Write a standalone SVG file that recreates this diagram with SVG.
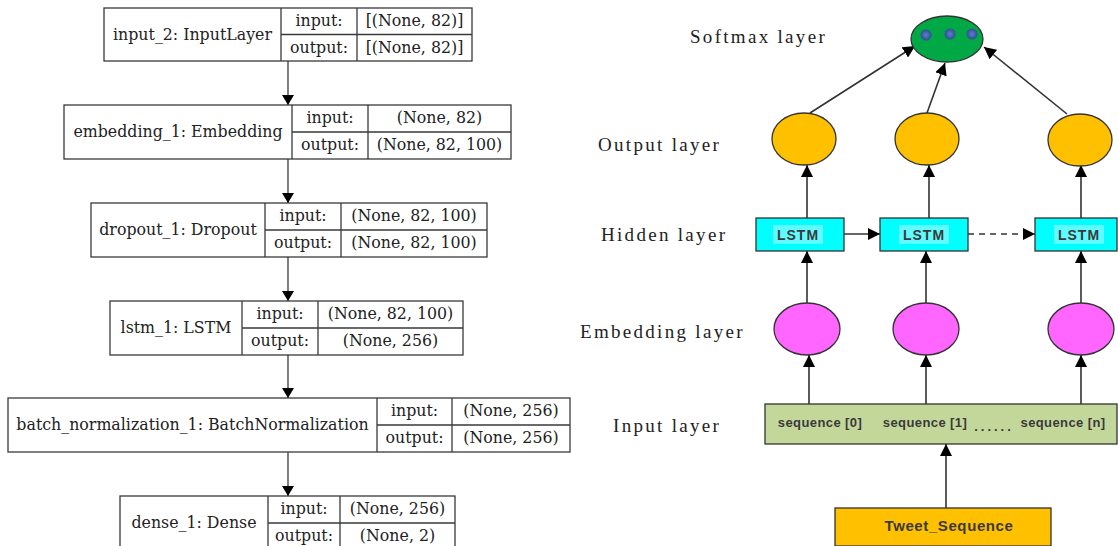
<svg xmlns="http://www.w3.org/2000/svg" width="1118" height="546" viewBox="0 0 1118 546">
<style>
.box{fill:#fff;stroke:#3a3a3a;stroke-width:1.3}
.ln{stroke:#3a3a3a;stroke-width:1.3;fill:none}
.t{font-family:"DejaVu Serif",serif;font-size:15.8px;fill:#222;text-anchor:middle}
.lab{font-family:"Liberation Serif",serif;font-size:19px;fill:#222;letter-spacing:2.3px}
.con{stroke:#333;stroke-width:1.6;fill:none}
.b{font-family:"Liberation Sans",Arial,sans-serif;font-weight:bold;fill:#3a3a3a;text-anchor:middle}
.nd{stroke:#333;stroke-width:1.3}
</style>
<defs>
<marker id="ah" viewBox="0 0 10 12" refX="10" refY="6" markerWidth="10" markerHeight="12" markerUnits="userSpaceOnUse" orient="auto"><path d="M0,0 L10,6 L0,12 Z" fill="#000"/></marker>
<marker id="ar" viewBox="0 0 12 12" refX="12" refY="6" markerWidth="12" markerHeight="12" markerUnits="userSpaceOnUse" orient="auto"><path d="M0,0 L12,6 L0,12 Z" fill="#000"/></marker>
<radialGradient id="dot"><stop offset="0" stop-color="#5b7fd0"/><stop offset="1" stop-color="#2f4f8f"/></radialGradient>
</defs>

<g id="connectors">
<path class="ln" d="M288,61 V105" marker-end="url(#ah)"/>
<path class="ln" d="M288,159 V203" marker-end="url(#ah)"/>
<path class="ln" d="M288,257 V301" marker-end="url(#ah)"/>
<path class="ln" d="M288,355 V398" marker-end="url(#ah)"/>
<path class="ln" d="M288,452 V496" marker-end="url(#ah)"/>
<path class="con" d="M810,113 L915,46" marker-end="url(#ar)"/>
<path class="con" d="M927,113 L945,63" marker-end="url(#ar)"/>
<path class="con" d="M1067,114 L984,47" marker-end="url(#ar)"/>
<path class="con" d="M807,218 V165" marker-end="url(#ar)"/>
<path class="con" d="M929,218 V165" marker-end="url(#ar)"/>
<path class="con" d="M1081,218 V165" marker-end="url(#ar)"/>
<path class="con" d="M844,234 H880" marker-end="url(#ar)"/>
<path class="con" d="M968,234 H1035" stroke-dasharray="6,5" marker-end="url(#ar)"/>
<path class="con" d="M807,303 V251" marker-end="url(#ar)"/>
<path class="con" d="M926,303 V251" marker-end="url(#ar)"/>
<path class="con" d="M1081,303 V251" marker-end="url(#ar)"/>
<path class="con" d="M809,404 V355" marker-end="url(#ar)"/>
<path class="con" d="M926,404 V355" marker-end="url(#ar)"/>
<path class="con" d="M1081,404 V355" marker-end="url(#ar)"/>
<path class="con" d="M946,508 V444" marker-end="url(#ar)"/>
</g>

<g id="input_2">
<rect class="box" x="104" y="8" width="368" height="53"/>
<path class="ln" d="M281,8 V61 M357,8 V61 M281,34.5 H472"/>
<text class="t" x="192.5" y="40">input_2: InputLayer</text>
<text class="t" x="319" y="26">input:</text>
<text class="t" x="319" y="53">output:</text>
<text class="t" x="414.5" y="26">[(None, 82)]</text>
<text class="t" x="414.5" y="53">[(None, 82)]</text>
</g>

<g id="embedding_1">
<rect class="box" x="64" y="105" width="447" height="54"/>
<path class="ln" d="M292,105 V159 M368,105 V159 M292,132 H511"/>
<text class="t" x="178" y="137">embedding_1: Embedding</text>
<text class="t" x="330" y="123">input:</text>
<text class="t" x="330" y="150">output:</text>
<text class="t" x="439.5" y="123">(None, 82)</text>
<text class="t" x="439.5" y="150">(None, 82, 100)</text>
</g>

<g id="dropout_1">
<rect class="box" x="91" y="203" width="396" height="54"/>
<path class="ln" d="M265,203 V257 M341,203 V257 M265,230 H487"/>
<text class="t" x="178" y="235">dropout_1: Dropout</text>
<text class="t" x="303" y="221">input:</text>
<text class="t" x="303" y="248">output:</text>
<text class="t" x="414" y="221">(None, 82, 100)</text>
<text class="t" x="414" y="248">(None, 82, 100)</text>
</g>

<g id="lstm_1">
<rect class="box" x="110" y="301" width="353" height="54"/>
<path class="ln" d="M242,301 V355 M318,301 V355 M242,328 H463"/>
<text class="t" x="176" y="333">lstm_1: LSTM</text>
<text class="t" x="280" y="319">input:</text>
<text class="t" x="280" y="346">output:</text>
<text class="t" x="390.5" y="319">(None, 82, 100)</text>
<text class="t" x="390.5" y="346">(None, 256)</text>
</g>

<g id="batch_normalization_1">
<rect class="box" x="8" y="398" width="562" height="54"/>
<path class="ln" d="M377,398 V452 M452,398 V452 M377,425 H570"/>
<text class="t" x="192.5" y="430">batch_normalization_1: BatchNormalization</text>
<text class="t" x="414.5" y="416">input:</text>
<text class="t" x="414.5" y="443">output:</text>
<text class="t" x="511" y="416">(None, 256)</text>
<text class="t" x="511" y="443">(None, 256)</text>
</g>

<g id="dense_1">
<rect class="box" x="120" y="496" width="335" height="54"/>
<path class="ln" d="M268,496 V550 M340,496 V550 M268,523 H455"/>
<text class="t" x="194" y="528">dense_1: Dense</text>
<text class="t" x="304" y="514">input:</text>
<text class="t" x="304" y="541">output:</text>
<text class="t" x="397.5" y="514">(None, 256)</text>
<text class="t" x="397.5" y="541">(None, 2)</text>
</g>

<g id="labels">
<text class="lab" x="690" y="43">Softmax layer</text>
<text class="lab" x="598" y="151">Output layer</text>
<text class="lab" x="601" y="241">Hidden layer</text>
<text class="lab" x="580" y="338">Embedding layer</text>
<text class="lab" x="613" y="432">Input layer</text>
</g>

<g id="softmax">
<ellipse class="nd" cx="947" cy="39" rx="36" ry="23" fill="#00a846"/>
<circle cx="926" cy="35" r="5.5" fill="url(#dot)"/>
<circle cx="950" cy="34" r="5.5" fill="url(#dot)"/>
<circle cx="972" cy="34" r="5.5" fill="url(#dot)"/>
</g>

<g id="output_nodes">
<ellipse class="nd" cx="804" cy="139" rx="32" ry="26" fill="#ffc000"/>
<ellipse class="nd" cx="927" cy="139" rx="32" ry="26" fill="#ffc000"/>
<ellipse class="nd" cx="1080" cy="140" rx="32" ry="26" fill="#ffc000"/>
</g>

<g id="lstm_nodes">
<rect class="nd" x="756" y="218" width="88" height="33" fill="#00ffff"/>
<rect class="nd" x="880" y="218" width="88" height="33" fill="#00ffff"/>
<rect class="nd" x="1035" y="218" width="82" height="33" fill="#00ffff"/>
<rect x="773" y="225" width="50" height="19" fill="#5ffcff"/>
<rect x="899" y="225" width="50" height="19" fill="#5ffcff"/>
<rect x="1054" y="225" width="50" height="19" fill="#5ffcff"/>
<text class="b" x="798" y="240" font-size="14" letter-spacing="1">LSTM</text>
<text class="b" x="924" y="240" font-size="14" letter-spacing="1">LSTM</text>
<text class="b" x="1079" y="240" font-size="14" letter-spacing="1">LSTM</text>
</g>

<g id="embedding_nodes">
<ellipse class="nd" cx="807" cy="329" rx="33" ry="26" fill="#ff66ff"/>
<ellipse class="nd" cx="926" cy="329" rx="33" ry="26" fill="#ff66ff"/>
<ellipse class="nd" cx="1081" cy="329" rx="33" ry="26" fill="#ff66ff"/>
</g>

<g id="input_layer">
<rect class="nd" x="765" y="404" width="352" height="40" fill="#c4d79b"/>
<text class="b" x="820" y="427" font-size="13" letter-spacing="0.4">sequence [0]</text>
<text class="b" x="925" y="427" font-size="13" letter-spacing="0.4">sequence [1]</text>
<text class="b" x="994" y="431" font-size="13" letter-spacing="3" fill="#222">......</text>
<text class="b" x="1063" y="427" font-size="13" letter-spacing="0.4">sequence [n]</text>
</g>

<g id="tweet_sequence">
<rect class="nd" x="835" y="508" width="216" height="38" fill="#ffc000"/>
<text class="b" x="949" y="531" font-size="15" letter-spacing="0.6" fill="#3a3000">Tweet_Sequence</text>
</g>
</svg>
